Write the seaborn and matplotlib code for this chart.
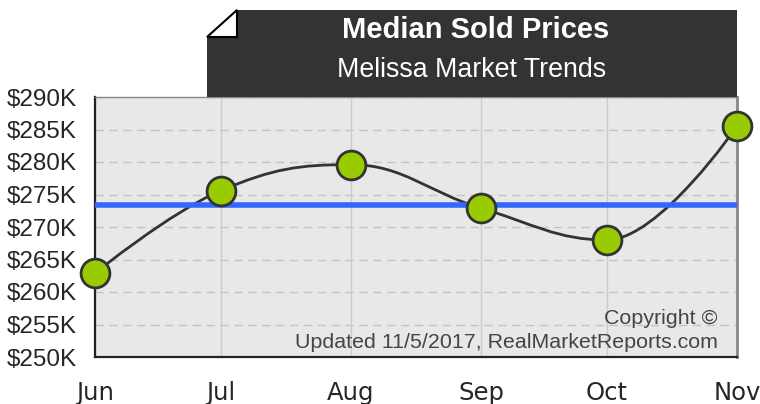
import numpy as np
import pandas as pd
import matplotlib
matplotlib.use("Agg")
import matplotlib.pyplot as plt
import seaborn as sns
from matplotlib.path import Path
from matplotlib.patches import PathPatch, Polygon

# data
months = ["Jun", "Jul", "Aug", "Sep", "Oct", "Nov"]
day_offset = [0, 30, 61, 92, 122, 153]   # days since Jun 1
median_price = [262.9, 275.6, 279.6, 272.9, 268.0, 285.5]  # $K
average_price = 273.4
yticks = [250, 255, 260, 265, 270, 275, 280, 285, 290]

df = pd.DataFrame({"month": months, "day": day_offset, "price": median_price})

sns.set_style("white")
plt.rcParams["font.family"] = ["Liberation Sans", "DejaVu Sans"]

fig = plt.figure(figsize=(7.6, 4.04), dpi=100)
ax = fig.add_axes([95 / 760, 1 - 357 / 404, 642 / 760, 260 / 404])
ax.set_facecolor("#e8e8e8")


def spline_path(xs, ys, smoothing=1.5):
    # highcharts style bezier spline
    n = len(xs)
    verts = [(xs[0], ys[0])]
    codes = [Path.MOVETO]
    left = [(x, y) for x, y in zip(xs, ys)]
    right = [(x, y) for x, y in zip(xs, ys)]
    d = smoothing + 1
    for i in range(1, n - 1):
        px, py = xs[i], ys[i]
        lx, ly = xs[i - 1], ys[i - 1]
        nx, ny = xs[i + 1], ys[i + 1]
        lcx = (smoothing * px + lx) / d
        lcy = (smoothing * py + ly) / d
        rcx = (smoothing * px + nx) / d
        rcy = (smoothing * py + ny) / d
        corr = (rcy - lcy) * (rcx - px) / (rcx - lcx) + py - rcy
        lcy += corr
        rcy += corr
        if lcy > max(ly, py):
            lcy = max(ly, py)
            rcy = 2 * py - lcy
        elif lcy < min(ly, py):
            lcy = min(ly, py)
            rcy = 2 * py - lcy
        if rcy > max(py, ny):
            rcy = max(py, ny)
            lcy = 2 * py - rcy
        elif rcy < min(py, ny):
            rcy = min(py, ny)
            lcy = 2 * py - rcy
        left[i] = (lcx, lcy)
        right[i] = (rcx, rcy)
    for i in range(1, n):
        verts += [right[i - 1], left[i], (xs[i], ys[i])]
        codes += [Path.CURVE4] * 3
    return Path(verts, codes)


ax.add_patch(PathPatch(spline_path(df["day"].tolist(), df["price"].tolist()),
                       facecolor="none", edgecolor="#333333", lw=2, zorder=3))
ax.axhline(average_price, color="#3366ff", lw=4, zorder=4)
sns.scatterplot(data=df, x="day", y="price", ax=ax, s=430, color="#99cc00",
                edgecolor="#333333", linewidth=2, zorder=5, clip_on=False)

ax.set_xlim(0, 153)
ax.set_ylim(250, 290)
ax.set_xticks(day_offset)
ax.set_xticklabels(months, fontsize=17.5, family="DejaVu Sans")
ax.set_yticks(yticks)
ax.set_yticklabels(["$%dK" % v for v in yticks], fontsize=17.5)
ax.set_xlabel("")
ax.set_ylabel("")
ax.tick_params(axis="x", length=6.5, width=1, color="#333333", pad=11, direction="out")
ax.tick_params(axis="y", length=6, width=1, color="#333333", pad=7, direction="out")
ax.xaxis.grid(True, color="#cccccc", lw=1, ls="-")
ax.yaxis.grid(True, color="#c4c4c4", lw=1, ls=(0, (6, 4)))
ax.set_axisbelow(True)
for s in ["left", "bottom"]:
    ax.spines[s].set_color("#222222")
    ax.spines[s].set_linewidth(1.6)
ax.spines["right"].set_color("#888888")
ax.spines["right"].set_linewidth(2)
ax.spines["top"].set_color("#888888")
ax.spines["top"].set_linewidth(1)

ax.text(0.97, 0.147, "Copyright \u00a9", transform=ax.transAxes, ha="right",
        va="center", fontsize=15.4, color="#444444")
ax.text(0.97, 0.055, "Updated 11/5/2017, RealMarketReports.com", transform=ax.transAxes,
        ha="right", va="center", fontsize=15.4, color="#444444")

# title banner with folded corner
W, H = 760, 404
def fc(x, y):
    return (x / W, 1 - y / H)

fig.patches.append(Polygon([fc(237, 10), fc(737, 10), fc(737, 97), fc(207, 97), fc(207, 37)],
                           closed=True, transform=fig.transFigure, facecolor="#333333",
                           edgecolor="none", zorder=1))
fig.patches.append(Polygon([fc(207, 37), fc(237, 10), fc(237, 37)], closed=True,
                           transform=fig.transFigure, facecolor="white",
                           edgecolor="black", lw=1.5, zorder=2))
fig.text(476 / W, 1 - 30 / H, "Median Sold Prices", color="white", fontsize=21,
         fontweight="bold", ha="center", va="center")
fig.text(472 / W, 1 - 70 / H, "Melissa Market Trends", color="white", fontsize=19.3,
         ha="center", va="center")

fig.savefig("out.png", dpi=100)
